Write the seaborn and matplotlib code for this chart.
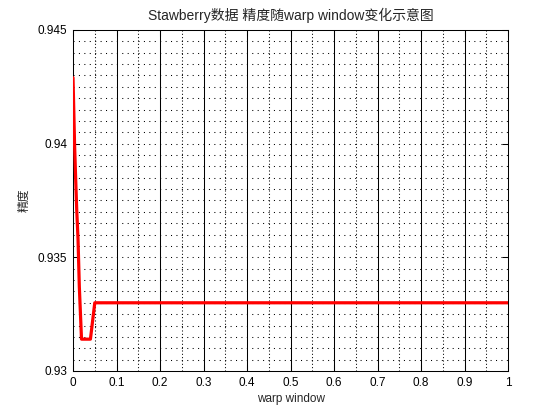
import numpy as np
import pandas as pd
import matplotlib
matplotlib.use("Agg")
import matplotlib.pyplot as plt
import seaborn as sns

# values
warp_window = [0.0, 0.0035, 0.006, 0.0085, 0.0115, 0.0145, 0.0195, 0.04, 0.05, 1.0]
accuracy = [0.9429, 0.9400, 0.9385, 0.9371, 0.9358, 0.9337, 0.9314, 0.9314, 0.9330, 0.9330]

x_ticks = [0, 0.1, 0.2, 0.3, 0.4, 0.5, 0.6, 0.7, 0.8, 0.9, 1]
x_tick_labels = ["0", "0.1", "0.2", "0.3", "0.4", "0.5", "0.6", "0.7", "0.8", "0.9", "1"]
y_ticks = [0.93, 0.935, 0.94, 0.945]
y_tick_labels = ["0.93", "0.935", "0.94", "0.945"]

df = pd.DataFrame({"warp window": warp_window, "精度": accuracy})

sns.set_style("white")
plt.rcParams["font.family"] = ["Liberation Sans", "Noto Sans CJK SC", "DejaVu Sans"]

fig = plt.figure(figsize=(5.6, 4.2), dpi=100)
ax = fig.add_axes([0.1304, 0.1167, 0.7768, 0.8119])

# grid: dotted minor lines, solid vertical major lines
for v in np.arange(0.05, 1.0, 0.1):
    ax.axvline(v, color="black", lw=0.75, ls=(0, (1, 2.2)), zorder=1)
for v in np.arange(0.9305, 0.9450, 0.0005):
    ax.axhline(v, color="black", lw=0.75, ls=(0, (1, 4.2)), zorder=1)
for v in x_ticks[1:-1]:
    ax.axvline(v, color="black", lw=0.75, zorder=1)

sns.lineplot(data=df, x="warp window", y="精度", color="#ff0000", lw=2.3, ax=ax, zorder=3)

ax.set_xlim(0, 1)
ax.set_ylim(0.93, 0.945)
ax.set_xticks(x_ticks)
ax.set_xticklabels(x_tick_labels)
ax.set_yticks(y_ticks)
ax.set_yticklabels(y_tick_labels)
ax.tick_params(direction="in", length=4, width=0.75, labelsize=8.5, colors="black",
               top=True, right=True, bottom=True, left=True, pad=4)
for s in ax.spines.values():
    s.set_color("black")
    s.set_linewidth(0.75)

ax.set_xlabel("warp window", fontsize=8.5, labelpad=3)
ax.set_ylabel("精度", fontsize=8.5, labelpad=5)
ax.set_title("Stawberry数据 精度随warp window变化示意图", fontsize=10, pad=7)

fig.savefig("out.png", dpi=100, facecolor="white")
